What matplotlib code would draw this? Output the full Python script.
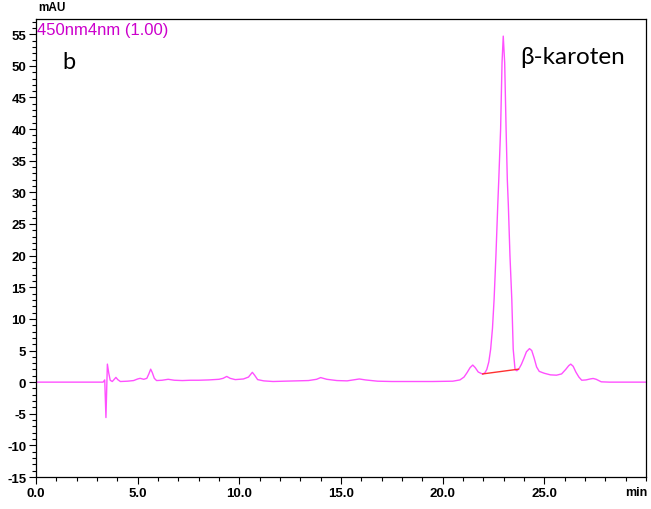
import matplotlib.pyplot as plt
from matplotlib.ticker import MultipleLocator
import numpy as np

# detector trace, 450 nm (time in min, signal in mAU)
time_min = [0.0, 3.30, 3.38, 3.44, 3.51, 3.58, 3.65, 3.75, 3.85, 3.93, 4.02, 4.15,
            4.5, 4.8, 5.0, 5.12, 5.3, 5.45, 5.55, 5.64, 5.72, 5.82, 5.93, 6.2,
            6.5, 6.8, 7.2, 7.6, 8.0, 8.5, 9.0, 9.2, 9.38, 9.55, 9.8, 10.2,
            10.45, 10.55, 10.64, 10.75, 10.9, 11.2, 11.66, 12.2, 12.8, 13.4,
            13.8, 14.0, 14.3, 14.8, 15.3, 15.7, 15.9, 16.2, 16.8, 17.5, 18.5,
            19.5, 20.5, 20.85, 21.05, 21.2, 21.35, 21.48, 21.6, 21.75, 21.97,
            22.08, 22.17, 22.27, 22.36, 22.45, 22.53, 22.62, 22.71, 22.76, 22.85,
            22.92, 22.98, 23.05, 23.12, 23.18, 23.23, 23.31, 23.40, 23.47, 23.56,
            23.65, 23.75, 23.87, 24.0, 24.12, 24.27, 24.38, 24.5, 24.62, 24.75,
            25.0, 25.3, 25.6, 25.85, 26.05, 26.2, 26.3, 26.42, 26.55, 26.7,
            26.84, 27.05, 27.25, 27.4, 27.55, 27.8, 28.2, 29.0, 30.0]
signal_mau = [0.0, 0.0, 0.35, -5.6, 2.85, 1.4, 0.3, 0.1, 0.45, 0.75, 0.4, 0.1,
              0.15, 0.25, 0.5, 0.6, 0.45, 0.6, 1.3, 2.05, 1.5, 0.6, 0.25, 0.3,
              0.45, 0.3, 0.25, 0.3, 0.3, 0.35, 0.45, 0.6, 0.9, 0.6, 0.4, 0.5,
              0.8, 1.2, 1.55, 1.1, 0.4, 0.2, 0.1, 0.15, 0.2, 0.25,
              0.45, 0.72, 0.45, 0.25, 0.2, 0.4, 0.5, 0.35, 0.15, 0.1, 0.1,
              0.1, 0.15, 0.35, 0.8, 1.5, 2.3, 2.7, 2.3, 1.6, 1.26,
              1.5, 2.0, 3.2, 5.2, 8.5, 13.1, 20.0, 28.0, 32.0, 40.0,
              50.5, 54.7, 50.5, 40.0, 32.0, 28.0, 20.0, 13.1, 5.2, 2.0,
              1.8, 2.1, 2.8, 3.8, 4.8, 5.3, 5.0, 3.8, 2.4, 1.7,
              1.4, 1.15, 1.1, 1.3, 2.0, 2.6, 2.85, 2.5, 1.6, 0.8,
              0.3, 0.35, 0.5, 0.58, 0.45, 0.05, 0.0, 0.0, 0.0]

# integration baseline under the main peak
base_t = [21.97, 23.73]
base_y = [1.3, 2.05]

fig = plt.figure(figsize=(6.51, 5.10), dpi=100)
ax = fig.add_axes([0.0553, 0.0627, 0.937, 0.898])

ax.plot(time_min, signal_mau, color='#ff50ff', lw=1.0)
ax.plot(base_t, base_y, color='#ff3030', lw=1.0)

ax.set_xlim(0, 30)
ax.set_ylim(-15, 57.4)
ax.xaxis.set_major_locator(MultipleLocator(5))
ax.xaxis.set_minor_locator(MultipleLocator(1))
ax.yaxis.set_major_locator(MultipleLocator(5))
ax.yaxis.set_minor_locator(MultipleLocator(1))
ax.set_xticks(np.arange(0, 30, 5))
ax.set_xticklabels(['%.1f' % v for v in np.arange(0, 30, 5)])
ax.set_yticks(np.arange(-15, 56, 5))
ax.set_yticklabels(['%d' % v for v in np.arange(-15, 56, 5)])
ax.tick_params(which='major', length=5, width=0.8, direction='out', pad=2)
ax.tick_params(which='minor', length=3, width=0.8, direction='out')
ax.tick_params(top=False, right=False)
for lbl in ax.get_xticklabels() + ax.get_yticklabels():
    lbl.set_fontfamily('Liberation Sans')
    lbl.set_fontweight('bold')
    lbl.set_fontsize(9.5)
for s in ax.spines.values():
    s.set_linewidth(0.9)

fig.text(0.058, 0.985, 'mAU', ha='left', va='center', fontsize=8.5,
         family='Liberation Sans', fontweight='bold')
fig.text(0.995, 0.033, 'min', ha='right', va='center', fontsize=9,
         family='Liberation Sans', fontweight='bold')
ax.text(0.002, 0.994, '450nm4nm (1.00)', transform=ax.transAxes, ha='left',
        va='top', fontsize=12, color='#cc00cc', family='Liberation Sans')
ax.text(1.3, 50.7, 'b', fontsize=17, family='Lato', ha='left', va='center')
ax.text(23.8, 51.5, 'β-karoten', fontsize=17.5, family='Lato', ha='left',
        va='center')

fig.savefig('out.png', dpi=100)
